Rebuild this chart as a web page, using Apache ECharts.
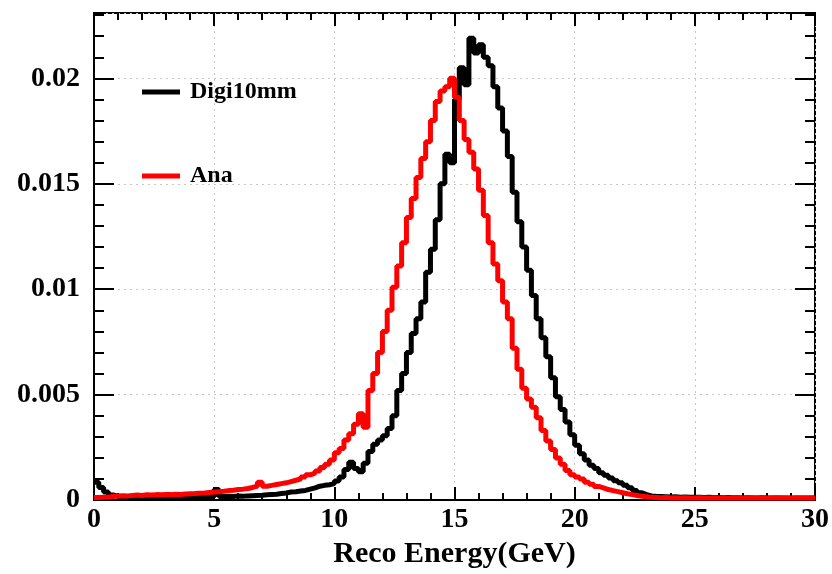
<!DOCTYPE html>
<html>
<head>
<meta charset="utf-8">
<script src="https://cdn.jsdelivr.net/npm/echarts@6/dist/echarts.min.js"></script>
<style>
html,body{margin:0;padding:0;background:#fff;}
#chart{width:832px;height:574px;}
</style>
</head>
<body>
<div id="chart"></div>
<script>
// Histogram: 150 bins of 0.2 GeV from 0 to 30 GeV
const binStart = 0;
const binWidth = 0.2;
const xTickLabels = ['0', '5', '10', '15', '20', '25', '30'];
const yTickLabels = ['0', '0.005', '0.01', '0.015', '0.02'];
const seriesNames = ['Digi10mm', 'Ana'];

const digi10mm = [
  0.00085,0.00060,0.00038,0.00024,0.00018,0.00015,0.00016,0.00018,0.00014,0.00013,
  0.00016,0.00014,0.00012,0.00014,0.00015,0.00013,0.00015,0.00014,0.00016,0.00015,
  0.00014,0.00016,0.00015,0.00017,0.00016,0.00050,0.00017,0.00018,0.00017,0.00019,
  0.00018,0.00020,0.00021,0.00022,0.00023,0.00025,0.00027,0.00028,0.00031,0.00034,
  0.00038,0.00040,0.00043,0.00046,0.00052,0.00058,0.00066,0.00070,0.00073,0.00078,
  0.00090,0.00110,0.00145,0.00180,0.00150,0.00135,0.00175,0.00230,0.00265,0.00285,
  0.00305,0.00340,0.00400,0.00520,0.00600,0.00700,0.00790,0.00860,0.00940,0.01080,
  0.01190,0.01330,0.01500,0.01640,0.01600,0.01900,0.02050,0.01970,0.02190,0.02120,
  0.02160,0.02100,0.02060,0.01960,0.01860,0.01750,0.01630,0.01460,0.01320,0.01200,
  0.01090,0.00970,0.00860,0.00770,0.00680,0.00580,0.00490,0.00430,0.00370,0.00310,
  0.00260,0.00220,0.00190,0.00165,0.00150,0.00130,0.00118,0.00105,0.00092,0.00082,
  0.00070,0.00058,0.00045,0.00035,0.00026,0.00020,0.00018,0.00017,0.00016,0.00015,
  0.00016,0.00014,0.00015,0.00013,0.00014,0.00013,0.00012,0.00013,0.00012,0.00012,
  0.00011,0.00012,0.00011,0.00011,0.00010,0.00011,0.00010,0.00010,0.00011,0.00010,
  0.00010,0.00010,0.00010,0.00010,0.00009,0.00010,0.00010,0.00009,0.00010,0.00010
];

const ana = [
  0.00012,0.00014,0.00015,0.00017,0.00019,0.00021,0.00020,0.00022,0.00024,0.00022,
  0.00025,0.00024,0.00026,0.00025,0.00027,0.00026,0.00028,0.00027,0.00029,0.00030,
  0.00031,0.00033,0.00034,0.00036,0.00038,0.00040,0.00042,0.00045,0.00047,0.00050,
  0.00052,0.00055,0.00060,0.00066,0.00085,0.00066,0.00070,0.00074,0.00078,0.00082,
  0.00088,0.00094,0.00100,0.00110,0.00120,0.00128,0.00138,0.00155,0.00170,0.00190,
  0.00225,0.00245,0.00285,0.00315,0.00360,0.00410,0.00345,0.00520,0.00600,0.00700,
  0.00800,0.00900,0.01010,0.01110,0.01220,0.01340,0.01430,0.01530,0.01620,0.01700,
  0.01800,0.01890,0.01940,0.01960,0.02000,0.01910,0.01800,0.01710,0.01650,0.01570,
  0.01470,0.01350,0.01220,0.01120,0.01040,0.00940,0.00860,0.00720,0.00620,0.00530,
  0.00480,0.00440,0.00390,0.00330,0.00280,0.00240,0.00200,0.00170,0.00140,0.00120,
  0.00110,0.00100,0.00085,0.00075,0.00065,0.00058,0.00050,0.00045,0.00040,0.00035,
  0.00030,0.00026,0.00022,0.00018,0.00016,0.00013,0.00012,0.00011,0.00012,0.00010,
  0.00011,0.00010,0.00011,0.00010,0.00010,0.00011,0.00010,0.00010,0.00011,0.00010,
  0.00010,0.00010,0.00011,0.00010,0.00010,0.00010,0.00011,0.00010,0.00010,0.00010,
  0.00010,0.00011,0.00010,0.00010,0.00010,0.00010,0.00010,0.00011,0.00010,0.00010
];

function toSteps(vals) {
  const pts = vals.map((v, i) => [binStart + i * binWidth, v]);
  pts.push([binStart + vals.length * binWidth, vals[vals.length - 1]]);
  return pts;
}

const FONT = '"Liberation Serif", "Times New Roman", serif';
const gridLine = { show: true, lineStyle: { color: '#c8c8c8', type: [2, 4], width: 1 } };

function xAx(pos, interval, len, labels, main) {
  return {
    type: 'value', position: pos, min: 0, max: 30, interval: interval, offset: 0,
    axisLine: { show: main, onZero: false, lineStyle: { color: '#000', width: 2 } },
    axisTick: { show: true, inside: true, length: len, lineStyle: { color: '#000', width: 2 } },
    axisLabel: labels ? {
      show: true, margin: 6, color: '#000', fontFamily: FONT, fontWeight: 'bold', fontSize: 28,
      formatter: (v) => xTickLabels[Math.round(v / 5)] ?? ''
    } : { show: false },
    splitLine: labels ? gridLine : { show: false },
    name: labels ? 'Reco Energy(GeV)' : '',
    nameLocation: 'middle', nameGap: 36,
    nameTextStyle: { color: '#000', fontFamily: FONT, fontWeight: 'bold', fontSize: 30 }
  };
}
function yAx(pos, interval, len, labels, main) {
  return {
    type: 'value', position: pos, min: 0, max: 0.0231, interval: interval, offset: 0,
    axisLine: { show: main, onZero: false, lineStyle: { color: '#000', width: 2 } },
    axisTick: { show: true, inside: true, length: len, lineStyle: { color: '#000', width: 2 } },
    axisLabel: labels ? {
      show: true, margin: 14, color: '#000', fontFamily: FONT, fontWeight: 'bold', fontSize: 28,
      showMaxLabel: false,
      formatter: (v) => { const k = Math.round(v / 0.005); return (Math.abs(v - k * 0.005) < 1e-9) ? (yTickLabels[k] ?? '') : ''; }
    } : { show: false },
    splitLine: labels ? gridLine : { show: false }
  };
}

const chart = echarts.init(document.getElementById('chart'), null, { renderer: 'canvas' });
const legendText = { color: '#000', fontFamily: FONT, fontWeight: 'bold', fontSize: 24, padding: [0, 0, 0, 5] };
chart.setOption({
  animation: false,
  backgroundColor: '#fff',
  grid: { left: 94, right: 13, top: 13, bottom: 71, show: true, borderColor: '#000', borderWidth: 2, backgroundColor: 'transparent' },
  legend: [
    { data: [seriesNames[0]], left: 137, top: 75, icon: 'rect', itemWidth: 38, itemHeight: 5, textStyle: legendText, selectedMode: false },
    { data: [seriesNames[1]], left: 137, top: 159, icon: 'rect', itemWidth: 38, itemHeight: 5, textStyle: legendText, selectedMode: false }
  ],
  xAxis: [
    xAx('bottom', 5, 13, true, true),
    xAx('bottom', 1, 7, false, false),
    xAx('top', 5, 13, false, false),
    xAx('top', 1, 7, false, false)
  ],
  yAxis: [
    yAx('left', 0.005, 20, true, true),
    yAx('left', 0.001, 10, false, false),
    yAx('right', 0.005, 20, false, false),
    yAx('right', 0.001, 10, false, false)
  ],
  series: [
    {
      name: seriesNames[0], type: 'line', step: 'end', data: toSteps(digi10mm),
      showSymbol: false, symbol: 'none', clip: true, z: 3,
      itemStyle: { color: '#000' },
      lineStyle: { color: '#000', width: 5 }
    },
    {
      name: seriesNames[1], type: 'line', step: 'end', data: toSteps(ana),
      showSymbol: false, symbol: 'none', clip: true, z: 4,
      itemStyle: { color: '#ff0000' },
      lineStyle: { color: '#ff0000', width: 5 }
    }
  ]
});
</script>
</body>
</html>
